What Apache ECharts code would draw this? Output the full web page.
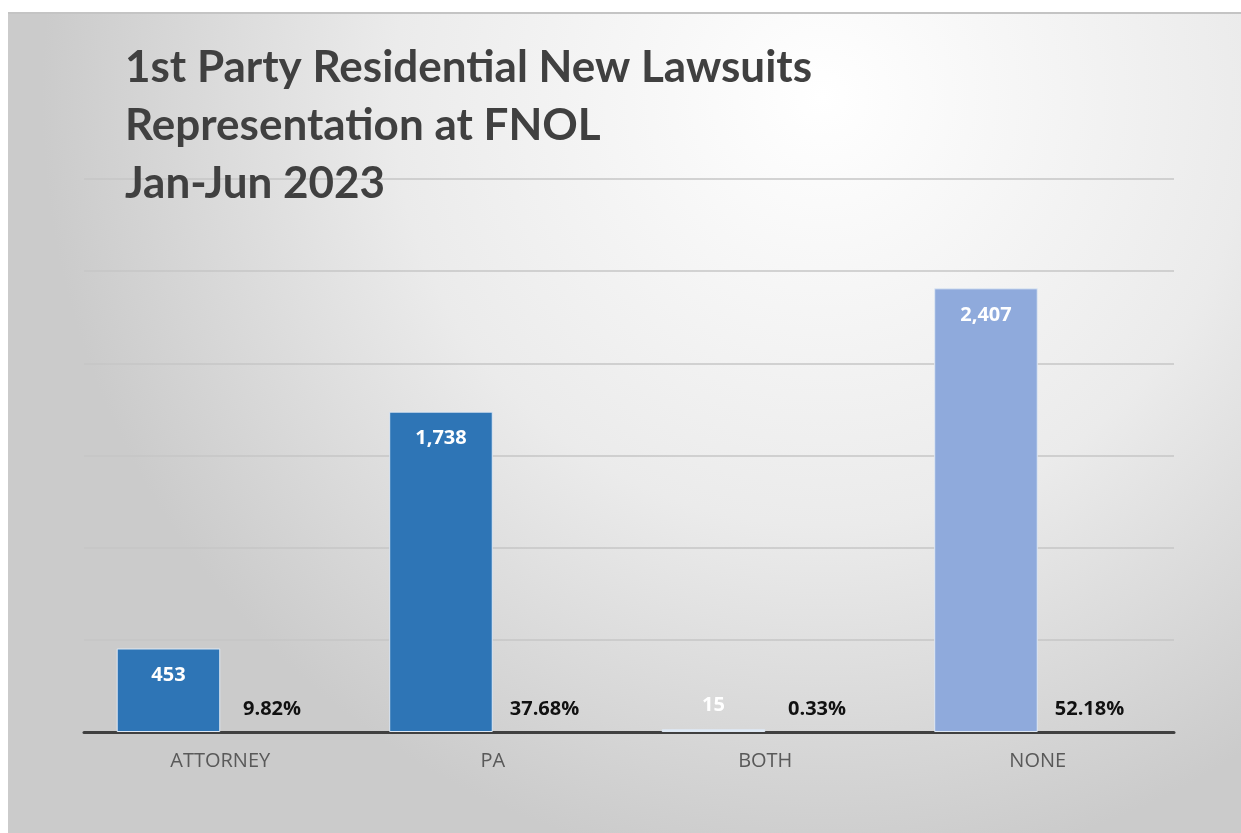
<!DOCTYPE html>
<html>
<head>
<meta charset="utf-8">
<script src="https://cdn.jsdelivr.net/npm/echarts@6/dist/echarts.min.js"></script>
<style>
html,body{margin:0;padding:0;background:#ffffff;width:1241px;height:833px;overflow:hidden;}
#chart{position:absolute;left:8px;top:12px;width:1233px;height:821px;border-top:2px solid #c4c4c4;}
</style>
</head>
<body>
<div id="chart"></div>
<script>
const categories = ['ATTORNEY', 'PA', 'BOTH', 'NONE'];
const counts = [453, 1738, 15, 2407];
const shares = [0.0982, 0.3768, 0.0033, 0.5218];
const titleLines = ['1st Party Residential New Lawsuits', 'Representation at FNOL', 'Jan-Jun 2023'];

const barColors = ['#2E75B6', '#2E75B6', '#DDEBF7', '#8FAADC'];

const chart = echarts.init(document.getElementById('chart'));
const countData = counts.map((v, i) => {
  const item = { value: v, itemStyle: { color: barColors[i] } };
  if (v < 100) {
    item.label = { position: 'top', distance: 14 };
  }
  return item;
});

chart.setOption({
  backgroundColor: {
    type: 'radial', x: 0.66, y: 0.1, r: 0.95,
    colorStops: [
      { offset: 0, color: '#ffffff' },
      { offset: 0.55, color: '#ebebeb' },
      { offset: 1, color: '#cbcbcb' }
    ]
  },
  title: {
    text: titleLines.join('\n'),
    left: 112, top: 20,
    textStyle: { fontFamily: 'Lato', fontWeight: 'bold', fontSize: 44, color: '#404040', lineHeight: 58 }
  },
  grid: { left: 76, right: 67, top: 165, bottom: 103 },
  xAxis: {
    type: 'category',
    data: categories,
    axisLine: { lineStyle: { color: '#404040', width: 3 } },
    axisTick: { show: false },
    axisLabel: { color: '#595959', fontSize: 20, fontFamily: 'Open Sans', margin: 19 }
  },
  yAxis: {
    type: 'value', min: 0, max: 3000, interval: 500,
    axisLabel: { show: false },
    axisLine: { show: false },
    axisTick: { show: false },
    splitLine: { lineStyle: { color: '#c6c6c6', width: 1.5 } }
  },
  series: [
    {
      type: 'bar',
      data: countData,
      barGap: '0%',
      barCategoryGap: '24%',
      itemStyle: { borderColor: '#dfe8f3', borderWidth: 1 },
      label: {
        show: true, position: 'insideTop', distance: 17,
        color: '#ffffff', fontWeight: 'bold', fontSize: 20, fontFamily: 'Open Sans',
        formatter: p => p.value.toLocaleString('en-US')
      },
      z: 3
    },
    {
      type: 'bar',
      data: shares,
      barGap: '0%',
      barCategoryGap: '24%',
      itemStyle: { color: '#f4f7fb' },
      label: {
        show: true, position: 'top', distance: 13,
        color: '#111111', fontWeight: 'bold', fontSize: 20, fontFamily: 'Open Sans',
        formatter: p => (p.value * 100).toFixed(2) + '%'
      },
      z: 3
    }
  ]
});
</script>
</body>
</html>
